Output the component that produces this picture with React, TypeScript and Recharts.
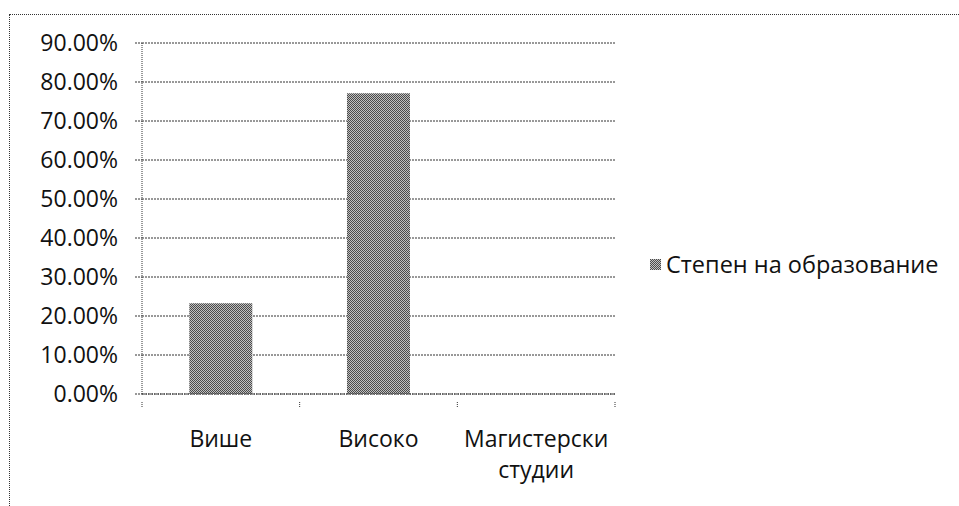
import React from 'react';
import { BarChart, Bar, XAxis, YAxis, CartesianGrid, Legend } from 'recharts';

const categories = ['Више', 'Високо', 'Магистерски студии'];
const seriesName = 'Степен на образование';
const seriesValues = [0.2326, 0.7712, 0];
const yTicks = [0, 0.1, 0.2, 0.3, 0.4, 0.5, 0.6, 0.7, 0.8, 0.9];

const data = categories.map((name, i) => ({ name, value: seriesValues[i] }));

const FONT = '"Open Sans", sans-serif';
const TEXT = '#111';
const LINE = '#333';
const PLOT_LEFT = 142;
const PLOT_RIGHT = 615;
const HALF_BAND = (PLOT_RIGHT - PLOT_LEFT) / categories.length / 2;

function CategoryTick(props: any) {
  const { x, y, payload, index } = props;
  const words = String(payload.value).split(' ');
  return (
    <g>
      {index === 0 && (
        <line x1={x - HALF_BAND} y1={y} x2={x - HALF_BAND} y2={y + 6} stroke={LINE} strokeDasharray="1 1" />
      )}
      <line x1={x + HALF_BAND} y1={y} x2={x + HALF_BAND} y2={y + 6} stroke={LINE} strokeDasharray="1 1" />
      <text x={x} y={y + 45} textAnchor="middle" fill={TEXT} fontSize={23} fontFamily={FONT}>
        {words.map((w, i) => (
          <tspan key={w} x={x} dy={i === 0 ? 0 : 31}>
            {w}
          </tspan>
        ))}
      </text>
    </g>
  );
}

function LegendContent() {
  return (
    <div style={{ display: 'flex', alignItems: 'center', fontFamily: FONT, fontSize: 23.5, color: TEXT }}>
      <svg width={11} height={11} style={{ marginRight: 5 }}>
        <rect x={0} y={0} width={11} height={11} fill="url(#dither)" />
      </svg>
      <span>{seriesName}</span>
    </div>
  );
}

export default function App() {
  return (
    <div style={{ position: 'fixed', left: 0, top: 0, width: 959, height: 506, background: '#fff', overflow: 'hidden' }}>
      <div
        style={{
          position: 'absolute',
          left: 9,
          top: 14,
          width: 960,
          height: 520,
          border: `1px dotted ${LINE}`,
        }}
      />
      <BarChart
        width={959}
        height={506}
        data={data}
        margin={{ top: 43, right: 959 - PLOT_RIGHT, left: 0, bottom: 0 }}
        barCategoryGap="30%"
      >
        <defs>
          <pattern id="dither" width={2} height={2} patternUnits="userSpaceOnUse">
            <rect x={0} y={0} width={2} height={2} fill="#c0c0c0" />
            <rect x={0} y={0} width={1} height={1} fill="#4a4a4a" />
            <rect x={1} y={1} width={1} height={1} fill="#4a4a4a" />
          </pattern>
        </defs>
        <CartesianGrid vertical={false} stroke={LINE} strokeDasharray="2 1" />
        <YAxis
          width={PLOT_LEFT}
          domain={[0, 0.9]}
          ticks={yTicks}
          interval={0}
          tickFormatter={(v: number) => (v * 100).toFixed(2) + '%'}
          tick={{ fill: TEXT, fontSize: 23, fontFamily: FONT }}
          tickSize={7}
          tickMargin={17}
          tickLine={{ stroke: LINE, strokeDasharray: '2 1' }}
          axisLine={{ stroke: LINE, strokeDasharray: '1 1' }}
        />
        <XAxis
          dataKey="name"
          height={112}
          interval={0}
          tick={<CategoryTick />}
          tickLine={false}
          axisLine={{ stroke: LINE, strokeDasharray: '1 1' }}
        />
        <Legend
          layout="horizontal"
          verticalAlign="middle"
          align="center"
          content={<LegendContent />}
          wrapperStyle={{ position: 'absolute', left: 650, top: 248, width: 309 }}
        />
        <Bar dataKey="value" name={seriesName} fill="url(#dither)" isAnimationActive={false} />
      </BarChart>
    </div>
  );
}
